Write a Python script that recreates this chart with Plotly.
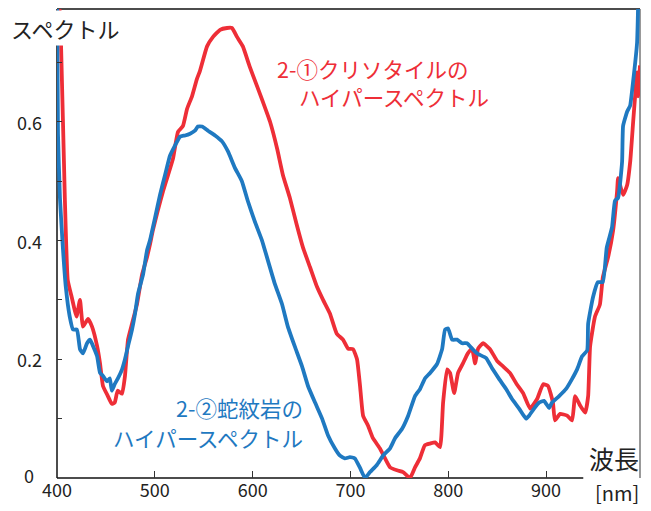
import plotly.graph_objects as go

# Hyperspectral reflectance curves (wavelength in nm, relative spectrum)
chrysotile_nm = [401, 404, 408, 411, 415, 420, 423.5, 426.6, 431.7, 435.8, 441, 444, 447, 452, 456, 459,
                 462, 466.5, 469.5, 472.6, 476.7, 481.8, 487, 492, 495, 498, 503, 508.4, 513.5, 518.6,
                 523.7, 528.8, 533, 538, 543, 546, 553.4, 559.5, 566.7, 573.8, 578.9, 584, 590, 597,
                 604.5, 610.6, 617.8, 625, 631, 638, 645, 651.5, 658.7, 665.8, 672, 679, 686, 692.4,
                 697.5, 702.7, 706.7, 709.8, 712.9, 718, 723, 730, 735.4, 740.5, 747.6, 753.8, 760.9,
                 766, 771, 776, 781.4, 786.5, 791.6, 794.7, 798.8, 801.8, 806, 810, 815, 820, 824.3,
                 827.4, 830.5, 835.6, 842.7, 850, 856, 863, 870, 876.5, 883.6, 890.8, 897, 902, 907,
                 909, 914.3, 921.5, 926.6, 929.7, 934.8, 940, 943, 945, 950, 955, 958, 963.4, 968.5,
                 972.6, 973.6, 978.7, 982.8, 986, 989, 991, 993, 994, 996]
chrysotile_val = [0.85, 0.738, 0.472, 0.333, 0.305, 0.272, 0.30, 0.255, 0.268, 0.255, 0.222, 0.193, 0.155,
                  0.138, 0.125, 0.127, 0.147, 0.142, 0.172, 0.233, 0.26, 0.293, 0.343, 0.372, 0.393, 0.417,
                  0.45, 0.483, 0.51, 0.538, 0.583, 0.593, 0.622, 0.643, 0.672, 0.685, 0.727, 0.743, 0.755,
                  0.758, 0.758, 0.743, 0.727, 0.693, 0.66, 0.633, 0.60, 0.555, 0.51, 0.472, 0.427, 0.388,
                  0.355, 0.322, 0.30, 0.277, 0.243, 0.233, 0.218, 0.217, 0.20, 0.155, 0.105, 0.088, 0.067,
                  0.05, 0.033, 0.018, 0.013, 0.01, 0.0, 0.018, 0.033, 0.055, 0.058, 0.06, 0.052, 0.127,
                  0.183, 0.177, 0.143, 0.177, 0.193, 0.21, 0.218, 0.193, 0.218, 0.227, 0.217, 0.197, 0.188,
                  0.177, 0.158, 0.143, 0.117, 0.133, 0.158, 0.155, 0.127, 0.097, 0.108, 0.105, 0.097,
                  0.138, 0.122, 0.11, 0.138, 0.222, 0.272, 0.292, 0.338, 0.372, 0.417, 0.483, 0.505,
                  0.477, 0.493, 0.533, 0.60, 0.643, 0.683, 0.643, 0.695]

serpentinite_nm = [400, 401, 403, 406, 409, 413, 416.4, 420.4, 423.5, 426.6, 430.7, 433.8, 436.9, 441, 444,
                   447, 451, 454, 456, 459, 462, 466.5, 469.5, 472.6, 476.7, 479.8, 482.8, 488, 492, 495,
                   500.2, 505.3, 510.4, 515.5, 520.6, 525.8, 530.9, 536, 541, 544, 548.3, 554.4, 561.6,
                   568.7, 574.8, 582, 589, 595, 602, 609.6, 615.5, 622.7, 630, 636, 643, 650.5, 656.6,
                   663.8, 671, 677, 684, 689, 694.3, 699.4, 704.5, 709.8, 714.9, 720, 727, 733.4, 740.5,
                   745.6, 752.8, 759, 766, 771.2, 776.3, 781.4, 788.5, 793.7, 796.7, 799.8, 803.9, 809,
                   814.1, 819.2, 824.3, 829.4, 831.5, 838.7, 844.8, 851.9, 859.1, 865.2, 872.4, 879.5,
                   882.6, 887.7, 892.8, 897.9, 903, 906, 913.3, 920.4, 926.6, 931.7, 936.8, 942, 943,
                   948, 953, 958, 962, 967.4, 970.4, 973.6, 977.7, 978.7, 982.8, 985.9, 988.9, 993, 994,
                   995]
serpentinite_val = [0.82, 0.58, 0.472, 0.388, 0.322, 0.272, 0.25, 0.25, 0.217, 0.21, 0.227, 0.233, 0.222,
                    0.205, 0.177, 0.172, 0.163, 0.168, 0.147, 0.158, 0.167, 0.183, 0.20, 0.222, 0.25,
                    0.277, 0.31, 0.343, 0.383, 0.40, 0.438, 0.477, 0.51, 0.543, 0.56, 0.575, 0.577, 0.58,
                    0.585, 0.592, 0.592, 0.585, 0.577, 0.567, 0.55, 0.522, 0.50, 0.467, 0.433, 0.40,
                    0.367, 0.327, 0.293, 0.255, 0.222, 0.188, 0.155, 0.127, 0.10, 0.072, 0.05, 0.038,
                    0.033, 0.035, 0.033, 0.017, 0.0, 0.01, 0.022, 0.038, 0.05, 0.067, 0.083, 0.105, 0.138,
                    0.15, 0.168, 0.177, 0.192, 0.217, 0.25, 0.252, 0.233, 0.233, 0.227, 0.227, 0.218,
                    0.21, 0.208, 0.202, 0.185, 0.167, 0.15, 0.133, 0.117, 0.10, 0.105, 0.117, 0.127,
                    0.13, 0.118, 0.127, 0.138, 0.15, 0.167, 0.183, 0.205, 0.215, 0.26, 0.305, 0.33, 0.33,
                    0.388, 0.422, 0.467, 0.472, 0.533, 0.593, 0.617, 0.627, 0.667, 0.733, 0.79, 0.85]

x_ticks = [400, 500, 600, 700, 800, 900]
y_label_vals = [0, 0.2, 0.4, 0.6]
y_label_text = ["0", "0.2", "0.4", "0.6"]

RED = "#EE2E37"
BLUE = "#1F79C1"
FONT = "Noto Sans CJK JP"

fig = go.Figure()
# red first so the blue curve sits on top where they cross
fig.add_trace(go.Scatter(x=chrysotile_nm, y=chrysotile_val, mode="lines",
                         line=dict(color=RED, width=3.8, shape="spline", smoothing=0.4),
                         showlegend=False))
fig.add_trace(go.Scatter(x=serpentinite_nm, y=serpentinite_val, mode="lines",
                         line=dict(color=BLUE, width=3.8, shape="spline", smoothing=0.4),
                         showlegend=False))

fig.update_layout(
    width=651, height=511,
    margin=dict(l=57, r=11, t=9, b=28),
    plot_bgcolor="white", paper_bgcolor="white",
    font=dict(family=FONT, color="#222"),
    showlegend=False,
    xaxis=dict(range=[400, 996], tickvals=x_ticks, ticks="inside", ticklen=7,
               tickcolor="#333", tickwidth=1.2, showgrid=False, zeroline=False,
               showline=False, tickfont=dict(size=18, family=FONT, color="#222")),
    yaxis=dict(range=[0, 0.79], dtick=0.1, tick0=0, ticks="inside", ticklen=5,
               tickcolor="#333", tickwidth=1.2, showgrid=False, zeroline=False,
               showline=False, showticklabels=False),
)

# Frame: black left/top/bottom, grey right edge, bottom stopping before the unit label
fig.add_shape(type="line", xref="paper", yref="paper", x0=0, x1=0, y0=0, y1=1,
              line=dict(color="#111", width=1.5), layer="below")
fig.add_shape(type="line", xref="paper", yref="paper", x0=0, x1=1, y0=1, y1=1,
              line=dict(color="#111", width=1.5), layer="below")
fig.add_shape(type="line", xref="x", yref="paper", x0=400, x1=938, y0=0, y1=0,
              line=dict(color="#111", width=1.5), layer="below")
fig.add_shape(type="line", xref="paper", yref="paper", x0=1, x1=1, y0=0, y1=1,
              line=dict(color="#777", width=1.5), layer="below")

# y tick labels
for v, t in zip(y_label_vals, y_label_text):
    fig.add_annotation(x=0, xref="paper", y=v, yref="y", text=t, showarrow=False,
                       xanchor="center", xshift=-28, yshift=3 if v == 0 else 0,
                       font=dict(size=18, family=FONT, color="#222"))

# axis titles
fig.add_annotation(x=0, xref="paper", y=1, yref="paper", text="スペクトル", showarrow=False,
                   xanchor="left", yanchor="middle", xshift=-48, yshift=-19,
                   bgcolor="white", font=dict(size=22, family=FONT, color="#222"))
fig.add_annotation(x=1, xref="paper", y=0, yref="paper", text="波長", showarrow=False,
                   xanchor="right", yanchor="middle", xshift=1, yshift=20,
                   font=dict(size=25, family=FONT, color="#222"))
fig.add_annotation(x=1, xref="paper", y=0, yref="paper", text="[nm]", showarrow=False,
                   xanchor="right", yanchor="middle", xshift=1, yshift=-14,
                   font=dict(size=20, family=FONT, color="#222"))

# series labels
fig.add_annotation(x=623, y=0.69, text="2-①クリソタイルの", showarrow=False, xanchor="left",
                   font=dict(size=21.5, family=FONT, color=RED))
fig.add_annotation(x=645, y=0.643, text="ハイパースペクトル", showarrow=False, xanchor="left",
                   font=dict(size=21.5, family=FONT, color=RED))
fig.add_annotation(x=654, y=0.118, text="2-②蛇紋岩の", showarrow=False, xanchor="right",
                   font=dict(size=21.5, family=FONT, color=BLUE))
fig.add_annotation(x=654, y=0.068, text="ハイパースペクトル", showarrow=False, xanchor="right",
                   font=dict(size=21.5, family=FONT, color=BLUE))

fig.write_html("out.html")
